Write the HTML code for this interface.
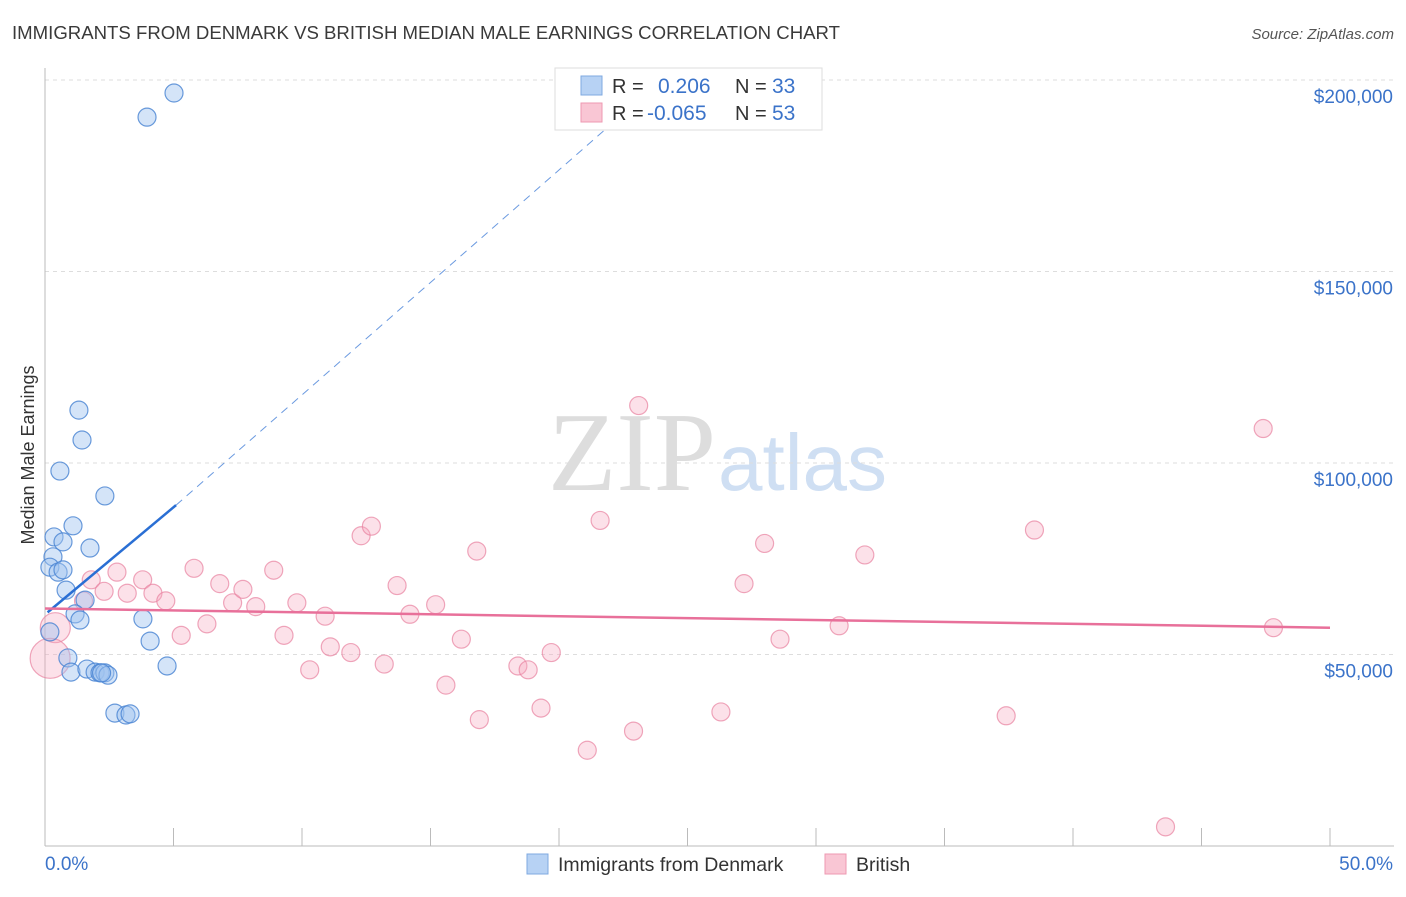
<!DOCTYPE html>
<html><head><meta charset="utf-8"><style>
body{margin:0;background:#fff;font-family:"Liberation Sans",sans-serif;}
</style></head><body>
<svg id="chart" width="1406" height="892" xmlns="http://www.w3.org/2000/svg" font-family="Liberation Sans, sans-serif">
<text x="12" y="39" font-size="18.6" fill="#3a3a3a" textLength="828">IMMIGRANTS FROM DENMARK VS BRITISH MEDIAN MALE EARNINGS CORRELATION CHART</text>
<text x="1394" y="39" font-size="15" font-style="italic" fill="#555" text-anchor="end">Source: ZipAtlas.com</text>
<text transform="translate(34,455) rotate(-90)" font-size="18" fill="#333" text-anchor="middle">Median Male Earnings</text>
<text x="716" y="490" font-size="112" text-anchor="end" fill="#ddd" font-family="Liberation Serif, serif">ZIP</text>
<text x="718" y="490" font-size="80" fill="#cfdff3">atlas</text>
<g id="grid"></g><g id="axes"></g><g id="pts"></g><g id="trend"></g>
<g>
<rect x="555" y="68" width="267" height="62" fill="#fff" stroke="#ddd"/>
<rect x="581" y="76" width="21" height="19" fill="#b7d2f4" stroke="#7fa9e0"/>
<rect x="581" y="103" width="21" height="19" fill="#f9c6d4" stroke="#ee98b2"/>
<text x="612" y="93" font-size="20" fill="#333">R =</text>
<text x="658" y="93" font-size="21" fill="#3b73c9">0.206</text>
<text x="735" y="93" font-size="20" fill="#333">N =</text>
<text x="772" y="93" font-size="21" fill="#3b73c9">33</text>
<text x="612" y="120" font-size="20" fill="#333">R =</text>
<text x="647" y="120" font-size="21" fill="#3b73c9">-0.065</text>
<text x="735" y="120" font-size="20" fill="#333">N =</text>
<text x="772" y="120" font-size="21" fill="#3b73c9">53</text>
</g>
<g>
<rect x="527" y="854" width="21" height="20" fill="#b7d2f4" stroke="#7fa9e0"/>
<text x="558" y="871" font-size="19.5" fill="#333">Immigrants from Denmark</text>
<rect x="825" y="854" width="21" height="20" fill="#f9c6d4" stroke="#ee98b2"/>
<text x="856" y="871" font-size="19.5" fill="#333">British</text>
</g>
</svg>
<script>
const yTicks=[50000,100000,150000,200000];
const yTickLabels=["$50,000","$100,000","$150,000","$200,000"];
const xTickVals=[0,5,10,15,20,25,30,35,40,45,50];
const blueX=[1.32,1.44,0.58,2.33,1.09,0.35,0.70,1.75,0.31,0.19,0.51,0.70,0.82,1.56,1.17,1.36,3.81,4.09,0.19,0.89,1.01,4.75,1.63,1.95,2.14,2.33,2.45,2.72,3.15,3.31,5.02,3.97,2.20];
const blueY=[113800,106000,97900,91400,83600,80700,79400,77800,75500,72800,71500,72100,66800,64200,60600,59000,59300,53500,55900,49100,45400,47000,46200,45400,45200,45200,44600,34700,34200,34500,196600,190300,45200];
const pinkX=[0.4,0.2,1.8,2.3,2.8,3.2,3.8,4.2,4.7,5.3,5.8,6.3,6.8,7.3,7.7,8.2,8.9,9.3,9.8,10.3,10.9,11.1,11.9,12.3,12.7,13.2,13.7,14.2,15.2,15.6,16.2,16.8,16.9,18.4,18.8,19.3,19.7,21.1,21.6,22.9,23.1,26.3,27.2,28.0,28.6,30.9,31.9,37.4,38.5,43.6,47.4,47.8,1.5];
const pinkY=[57000,49000,69500,66500,71500,66000,69500,66000,64000,55000,72500,58000,68500,63500,67000,62500,72000,55000,63500,46000,60000,52000,50500,81000,83500,47500,68000,60500,63000,42000,54000,77000,33000,47000,46000,36000,50500,25000,85000,30000,115000,35000,68500,79000,54000,57500,76000,34000,82500,5000,109000,57000,64000];
const pinkR=[15,20];
const X0=45,X1=1330,YB=846,YT=80;
const sx=v=>X0+(v/50)*(X1-X0);
const sy=v=>YB-(v/200000)*(YB-YT);
const NS="http://www.w3.org/2000/svg";
function mk(tag,attrs,parent){const e=document.createElementNS(NS,tag);for(const k in attrs)e.setAttribute(k,attrs[k]);document.getElementById(parent).appendChild(e);return e;}
yTicks.forEach((t,i)=>{
 const l=mk('line',{x1:X0,x2:1394,y1:sy(t),y2:sy(t),stroke:'#ddd','stroke-dasharray':'4,4'},'grid');
 
 
 const tx=mk('text',{x:1393,y:sy(t)+23,'font-size':19,fill:'#3b73c9','text-anchor':'end'},'grid');
 tx.textContent=yTickLabels[i];
 
 
});
const yAx=mk('line',{x1:X0,x2:X0,y1:68,y2:YB,stroke:'#bbb'},'axes');

const xAx=mk('line',{x1:X0,x2:1394,y1:YB,y2:YB,stroke:'#bbb'},'axes');

xTickVals.forEach(v=>{const t=mk('line',{x1:sx(v),x2:sx(v),y1:YB,y2:828,stroke:'#bbb'},'axes');
 
 });
const lblA=mk('text',{x:45,y:870,'font-size':19,fill:'#3b73c9'},'axes');lblA.textContent='0.0%';

const lblB=mk('text',{x:1393,y:870,'font-size':19,fill:'#3b73c9','text-anchor':'end'},'axes');lblB.textContent='50.0%';

pinkX.forEach((v,i)=>{const c=mk('circle',{cx:sx(v),cy:sy(pinkY[i]),r:pinkR[i]||9,fill:'rgba(246,170,192,0.35)',stroke:'rgba(232,130,160,0.7)','stroke-width':1.2},'pts');
 
 });
blueX.forEach((v,i)=>{const c=mk('circle',{cx:sx(v),cy:sy(blueY[i]),r:9,fill:'rgba(160,196,240,0.45)',stroke:'rgba(70,130,210,0.8)','stroke-width':1.2},'pts');
 
 });
const t1=mk('line',{x1:sx(0.1),y1:sy(61000),x2:sx(5.1),y2:sy(89000),stroke:'#2a6fd4','stroke-width':2.5},'trend');

const t2=mk('line',{x1:sx(5.1),y1:sy(89000),x2:sx(24),y2:sy(200000),stroke:'#6b9ae0','stroke-width':1,'stroke-dasharray':'8,6'},'trend');

const t3=mk('line',{x1:sx(0),y1:sy(62000),x2:sx(50),y2:sy(57000),stroke:'#e8709a','stroke-width':2.5},'trend');

</script>
</body></html>
